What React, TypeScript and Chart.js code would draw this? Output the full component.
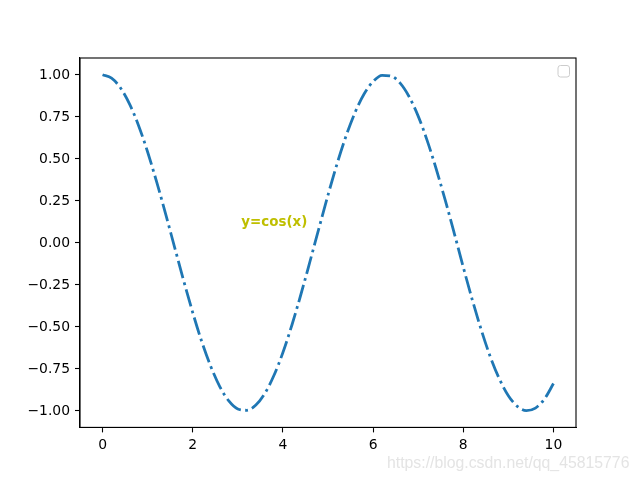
import React, { useEffect, useRef } from "react";
import { Chart, registerables } from "chart.js";

Chart.register(...registerables);

const xValues = [
  0, 0.2, 0.4, 0.6, 0.8, 1.0, 1.2, 1.4, 1.6, 1.8, 2.0, 2.2, 2.4, 2.6, 2.8, 3.0, 3.2, 3.4, 3.6, 3.8,
  4.0, 4.2, 4.4, 4.6, 4.8, 5.0, 5.2, 5.4, 5.6, 5.8, 6.0, 6.2, 6.4, 6.6, 6.8, 7.0, 7.2, 7.4, 7.6, 7.8,
  8.0, 8.2, 8.4, 8.6, 8.8, 9.0, 9.2, 9.4, 9.6, 9.8, 10.0,
];
const yValues = [
  1.0, 0.98, 0.921, 0.825, 0.697, 0.54, 0.362, 0.17, -0.029, -0.227, -0.416, -0.589, -0.737, -0.857,
  -0.942, -0.99, -0.998, -0.967, -0.897, -0.791, -0.654, -0.49, -0.307, -0.112, 0.087, 0.284, 0.469,
  0.635, 0.776, 0.886, 0.96, 0.997, 0.993, 0.95, 0.869, 0.754, 0.608, 0.439, 0.253, 0.056, -0.146,
  -0.34, -0.52, -0.68, -0.811, -0.911, -0.975, -1.0, -0.985, -0.931, -0.839,
];
const xTicks = [0, 2, 4, 6, 8, 10];
const yTicks = [-1.0, -0.75, -0.5, -0.25, 0.0, 0.25, 0.5, 0.75, 1.0];
const annotationText = "y=cos(x)";
const annotationX = 3.1;
const annotationY = 0.1;
const watermarkText = "https://blog.csdn.net/qq_45815776";

const decorPlugin = {
  id: "decor",
  afterDatasetsDraw(chart: any) {
    const { ctx, chartArea, scales } = chart;
    ctx.save();
    // annotation text
    ctx.font = "bold 13.4px 'DejaVu Sans'";
    ctx.fillStyle = "#bfbf00";
    ctx.textAlign = "left";
    ctx.textBaseline = "alphabetic";
    ctx.fillText(
      annotationText,
      scales.x.getPixelForValue(annotationX) - 1,
      scales.y.getPixelForValue(annotationY) + 0.5
    );
    // frame
    ctx.strokeStyle = "#000000";
    ctx.lineWidth = 1.1;
    ctx.strokeRect(
      chartArea.left,
      chartArea.top,
      chartArea.right - chartArea.left,
      chartArea.bottom - chartArea.top
    );
    // empty legend box
    const lx = chartArea.right - 18;
    const ly = chartArea.top + 7.5;
    ctx.beginPath();
    ctx.roundRect(lx, ly, 11.5, 11.5, 2.5);
    ctx.fillStyle = "rgba(255,255,255,0.8)";
    ctx.fill();
    ctx.strokeStyle = "#cccccc";
    ctx.lineWidth = 1;
    ctx.stroke();
    // watermark
    ctx.font = "15.8px 'Liberation Sans'";
    ctx.fillStyle = "#e4e4e4";
    ctx.textAlign = "left";
    ctx.textBaseline = "alphabetic";
    ctx.fillText(watermarkText, 387, 467.5);
    ctx.restore();
  },
};

export default function App() {
  const canvasRef = useRef<HTMLCanvasElement | null>(null);

  useEffect(() => {
    document.body.style.margin = "0";
    const canvas = canvasRef.current;
    if (!canvas) return;
    const points = xValues.map((x, i) => ({ x, y: yValues[i] }));
    const chart = new Chart(canvas, {
      type: "line",
      data: {
        datasets: [
          {
            data: points,
            borderColor: "#1f77b4",
            borderWidth: 2.78,
            borderDash: [17.8, 4.4, 2.8, 4.4],
            borderCapStyle: "butt",
            pointRadius: 0,
            fill: false,
            cubicInterpolationMode: "monotone",
          },
        ],
      },
      options: {
        animation: false,
        responsive: false,
        maintainAspectRatio: false,
        layout: { padding: { top: 58, right: 64, bottom: 0, left: 0 } },
        plugins: {
          legend: { display: false },
          tooltip: { enabled: false },
        },
        scales: {
          x: {
            type: "linear",
            min: -0.5,
            max: 10.5,
            afterBuildTicks: (axis: any) => {
              axis.ticks = xTicks.map((v) => ({ value: v }));
            },
            afterFit: (axis: any) => {
              axis.height = 52.6;
            },
            grid: {
              drawOnChartArea: false,
              drawTicks: true,
              tickLength: 5,
              tickColor: "#000000",
              tickWidth: 1.1,
            },
            border: { display: true, color: "#000000", width: 1.1 },
            ticks: {
              color: "#000000",
              padding: 5,
              maxRotation: 0,
              autoSkip: false,
              font: { family: "'DejaVu Sans'", size: 13.9 },
              callback: (v: any) => String(v),
            },
          },
          y: {
            type: "linear",
            min: -1.1,
            max: 1.1,
            afterBuildTicks: (axis: any) => {
              axis.ticks = yTicks.map((v) => ({ value: v }));
            },
            afterFit: (axis: any) => {
              axis.width = 80;
            },
            grid: {
              drawOnChartArea: false,
              drawTicks: true,
              tickLength: 5,
              tickColor: "#000000",
              tickWidth: 1.1,
            },
            border: { display: true, color: "#000000", width: 1.1 },
            ticks: {
              color: "#000000",
              padding: 5,
              labelOffset: 0.5,
              autoSkip: false,
              font: { family: "'DejaVu Sans'", size: 13.9 },
              callback: (v: any) => Number(v).toFixed(2).replace("-", "\u2212"),
            },
          },
        },
      },
      plugins: [decorPlugin],
    } as any);
    return () => chart.destroy();
  }, []);

  return (
    <div style={{ width: 640, height: 480 }}>
      <canvas ref={canvasRef} width={640} height={480} style={{ display: "block" }} />
    </div>
  );
}
